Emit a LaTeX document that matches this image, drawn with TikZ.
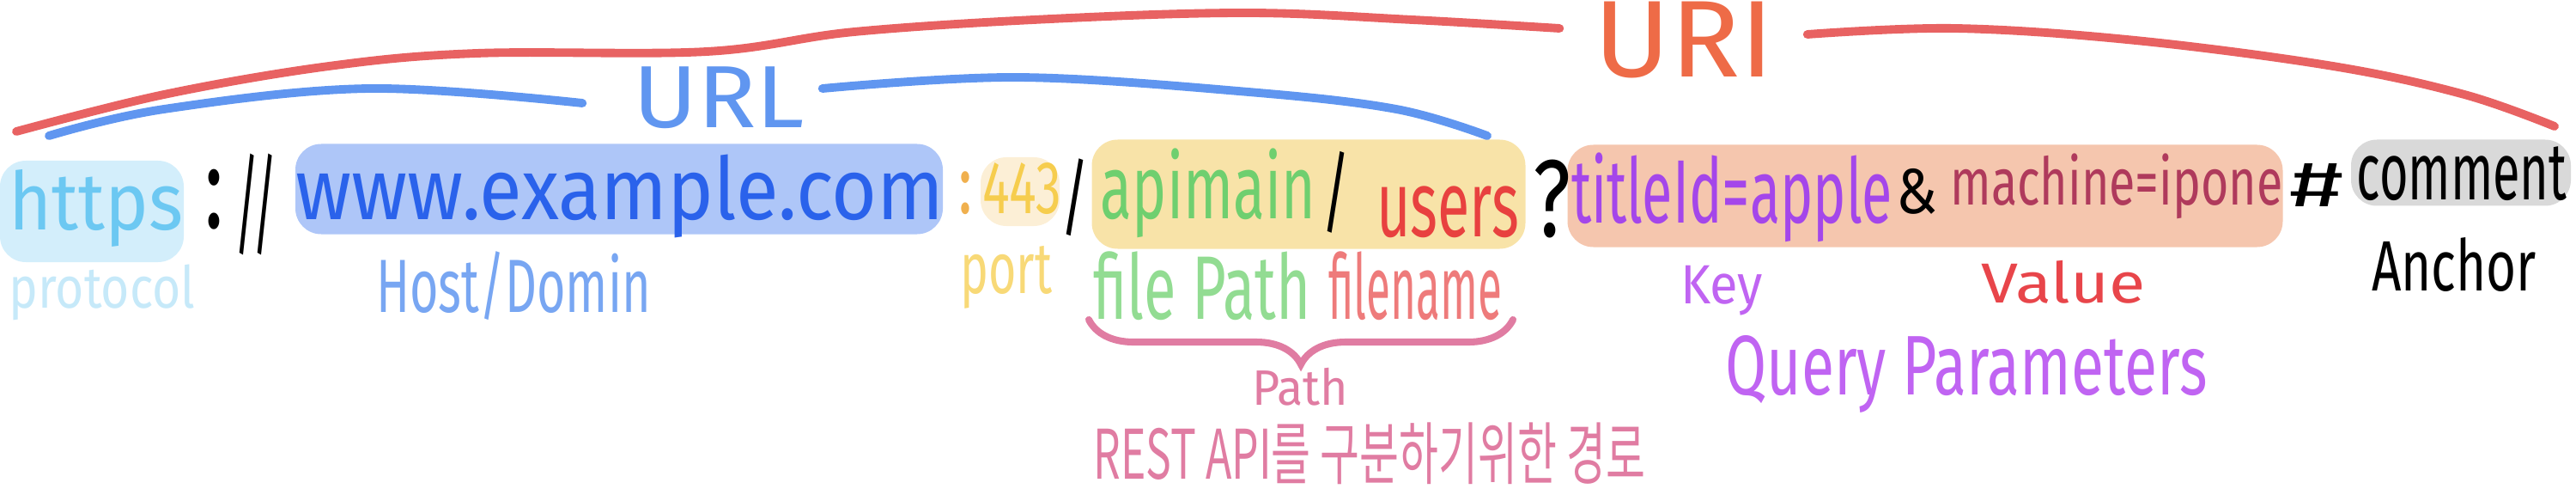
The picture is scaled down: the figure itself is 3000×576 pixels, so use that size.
\documentclass[tikz,border=0pt]{standalone}
\usepackage{fontspec}
\setmainfont{Fira Sans}
\newfontfamily\krfont{Noto Sans CJK KR}
\usepackage{graphicx}
\usepackage{tikz}
\usetikzlibrary{positioning}
\usetikzlibrary{decorations.pathreplacing}
\newdimen\px \px=0.01cm
% text squeezed to a box of width x total height (in px)
\newcommand{\hw}[3]{\resizebox*{#1\px}{#2\px}{#3}}

\definecolor{protoBlue}{HTML}{6CC8F2}
\definecolor{protoLight}{HTML}{C6E9F9}
\definecolor{protoHl}{HTML}{D3EEFB}
\definecolor{hostBlue}{HTML}{2A62EB}
\definecolor{hostHl}{HTML}{AEC6F8}
\definecolor{urlBlue}{HTML}{6096F0}
\definecolor{uriRed}{HTML}{E86262}
\definecolor{uriText}{HTML}{EE6B47}
\definecolor{portOrange}{HTML}{F0B04E}
\definecolor{portYellow}{HTML}{F6CD4E}
\definecolor{portLight}{HTML}{F8D977}
\definecolor{portHl}{HTML}{FCEFD6}
\definecolor{pathHl}{HTML}{F8E3A8}
\definecolor{pathGreen}{HTML}{6FCF6F}
\definecolor{pathLight}{HTML}{92DC92}
\definecolor{fileRed}{HTML}{E8413F}
\definecolor{fileLight}{HTML}{EE7B7B}
\definecolor{bracePink}{HTML}{E07CA2}
\definecolor{queryHl}{HTML}{F5C6AE}
\definecolor{keyPurple}{HTML}{A446EA}
\definecolor{keyLight}{HTML}{C064F2}
\definecolor{valMaroon}{HTML}{AF3A5C}
\definecolor{valRed}{HTML}{E8454A}
\definecolor{anchorHl}{HTML}{D9D9D9}

\tikzset{
  txt/.style = {draw=none, inner sep=0},
  hl/.style = {draw=none, inner sep=0, rounded corners=0.3cm},
  arc/.style = {line width=2.8pt, line cap=round, line join=round},
}

\begin{document}
\begin{tikzpicture}[x=0.01cm, y=-0.01cm]
\useasboundingbox (0,0) rectangle (3000,576);

% highlights
\node [hl, fill=protoHl, minimum width=214\px, minimum height=118\px] (hlProto) at (107,246) {};
\node [hl, fill=hostHl, minimum width=754\px, minimum height=105\px] (hlHost) at (721,220) {};
\node [hl, fill=portHl, minimum width=92\px, minimum height=80\px] (hlPort) at (1188,223) {};
\node [hl, fill=pathHl, minimum width=505\px, minimum height=127\px] (hlPath) at (1524,226) {};
\node [hl, fill=queryHl, minimum width=833\px, minimum height=119\px] (hlQuery) at (2242,228) {};
\node [hl, fill=anchorHl, minimum width=256\px, minimum height=77\px] (hlAnchor) at (2866,201) {};

% the address
\node [txt, text=protoBlue] (https) at (112,242) {\hw{203}{90}{https}};
\node [txt] (colon) at (249,232) {\hw{22}{70}{:}};
\node [txt] (slashes) at (298,238) {\hw{50}{118}{//}};
\node [txt, text=hostBlue] (host) at (722,228) {\hw{755}{97}{www.example.com}};
\node [txt, text=portOrange] (pcolon) at (1124,225) {\hw{16}{50}{:}};
\node [txt, text=portYellow] (port) at (1190,220) {\hw{92}{60}{443}};
\node [txt] (slashA) at (1252,230) {\hw{33}{90}{/}};
\node [txt, text=pathGreen] (apimain) at (1407,225) {\hw{250}{104}{apimain}};
\node [txt] (slashB) at (1556,224) {\hw{33}{95}{/}};
\node [txt, text=fileRed] (users) at (1686,247) {\hw{166}{60}{users}};
\node [txt] (qmark) at (1807,232) {\hw{44}{91}{?}};
\node [txt, text=keyPurple] (titleid) at (2017,230) {\hw{374}{104}{titleId=apple}};
\node [txt] (amp) at (2232,223) {\hw{48}{53}{\&}};
\node [txt, text=valMaroon] (machine) at (2465,217) {\hw{387}{76}{machine=ipone}};
\node [txt] (hash) at (2698,215) {\hw{63}{50}{\#}};
\node [txt] (comment) at (2867,202) {\hw{245}{63}{comment}};

% labels
\node [txt, text=protoLight] (protocol) at (119,340) {\hw{217}{65}{protocol}};
\node [txt, text=urlBlue!85!white] (hostlbl) at (598,333) {\hw{320}{80}{Host/Domin}};
\node [txt, text=portLight] (portlbl) at (1172,323) {\hw{107}{73}{port}};
\node [txt, text=pathLight] (filepath) at (1400,333) {\hw{253}{80}{file Path}};
\node [txt, text=fileLight] (filename) at (1648,333) {\hw{202}{80}{filename}};
\node [txt, text=keyLight] (key) at (2005,338) {\hw{96}{58}{Key}};
\node [txt, text=valRed] (value) at (2403,328) {\hw{191}{50}{Value}};
\node [txt] (anchor) at (2858,308) {\hw{192}{63}{Anchor}};
\node [txt, text=keyLight] (query) at (2290,435) {\hw{561}{90}{Query Parameters}};
\node [txt, text=bracePink] (pathlbl) at (1514,450) {\hw{112}{44}{Path}};
\node [txt, text=bracePink] (pathdesc) at (1595,528) {\hw{643}{72}{\krfont REST API를 구분하기위한 경로}};
\node [txt, text=uriText] (uri) at (1961,47) {\hw{210}{89}{URI}};
\node [txt, text=urlBlue] (url) at (837,114) {\hw{200}{72}{URL}};

% arcs
\coordinate (uriL) at (19,153);
\coordinate (uriR) at (2975,147);
\coordinate (urlL) at (57,158);
\coordinate (urlR) at (1732,158);
\draw [arc, uriRed] plot [smooth, tension=0.6] coordinates {(uriL) (191,110) (383,77) (555,62) (823,60) (995,37) (1224,22) (1454,15) (1645,23) ([shift={(-39,-14)}]uri.west)};
\draw [arc, uriRed] plot [smooth, tension=0.6] coordinates {([shift={(38,-7)}]uri.east) (2277,33) (2487,47) (2717,77) (2870,110) (uriR)};
\draw [arc, urlBlue] plot [smooth, tension=0.6] coordinates {(urlL) (191,127) (430,103) ([shift={(-58,6)}]url.west)};
\draw [arc, urlBlue] plot [smooth, tension=0.6] coordinates {([shift={(20,-11)}]url.east) (1186,90) (1454,107) (1626,127) (urlR)};

% path brace
\coordinate (braceL) at (1268,372);
\coordinate (braceR) at (1762,372);
\draw [bracePink, line width=2.3pt, line cap=round, decorate, decoration={brace, mirror, amplitude=0.52cm}] (braceL) to (braceR);
\end{tikzpicture}
\end{document}
